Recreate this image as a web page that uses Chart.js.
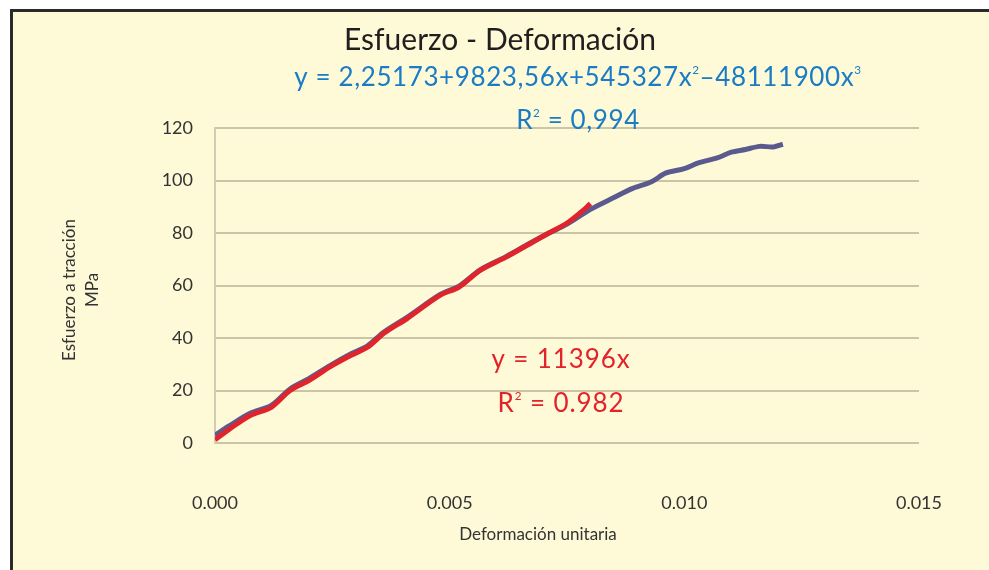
<!DOCTYPE html>
<html>
<head>
<meta charset="utf-8">
<script src="https://cdn.jsdelivr.net/npm/chart.js@4"></script>
<style>
  html, body { margin: 0; padding: 0; background: #fff; }
  #wrap { width: 989px; height: 570px; }
</style>
</head>
<body>
<div id="wrap"><canvas id="main" width="989" height="570"></canvas></div>
<script>
// curva completa (ajuste polinomico)
const xCurva = [0, 0.0003, 0.00075, 0.0012, 0.0016, 0.002, 0.00245, 0.0029, 0.00325, 0.0036, 0.0041,
  0.0048, 0.0052, 0.00565, 0.0062, 0.00665, 0.0071, 0.0075, 0.008, 0.0085, 0.0089, 0.0093, 0.0096,
  0.0100, 0.0103, 0.0107, 0.0110, 0.0113, 0.0116, 0.0119, 0.0121];
const yCurva = [3, 6.5, 11.3, 14.3, 20.6, 24.5, 29.5, 34, 37, 42.3, 48,
  56.6, 59.8, 66, 71, 75.5, 79.8, 83.4, 89, 93.5, 97, 99.5, 102.8,
  104.5, 106.7, 108.6, 110.8, 111.8, 113, 112.8, 113.8];

// tramo lineal (elastico)
const xLineal = [0, 0.0003, 0.00075, 0.0012, 0.0016, 0.002, 0.00245, 0.0029, 0.00325, 0.0036, 0.0041,
  0.0048, 0.0052, 0.00565, 0.0062, 0.00665, 0.0071, 0.0075, 0.0078, 0.0080];
const yLineal = [1.2, 5.2, 10.5, 13.6, 20, 23.8, 29, 33.4, 36.5, 41.8, 47.5,
  56.3, 59.4, 65.8, 70.8, 75.3, 79.9, 83.8, 88, 91.2];

const xTicks = [0, 0.005, 0.010, 0.015];
const yTicks = [0, 20, 40, 60, 80, 100, 120];

const toPoints = (xs, ys) => xs.map((x, i) => ({ x: x, y: ys[i] }));

const FONT = "Lato, 'Open Sans', sans-serif";
Chart.defaults.font.family = FONT;

// texto con superindices: partes [texto, esSuper]
function drawRich(ctx, parts, cx, cy, size, color, spacing) {
  ctx.save();
  ctx.fillStyle = color;
  ctx.textBaseline = "middle";
  ctx.textAlign = "left";
  ctx.letterSpacing = spacing + "px";
  let total = 0;
  parts.forEach(p => {
    ctx.font = (p[1] ? size * 0.45 : size) + "px " + FONT;
    total += ctx.measureText(p[0]).width;
  });
  let x = cx - total / 2;
  parts.forEach(p => {
    ctx.font = (p[1] ? size * 0.45 : size) + "px " + FONT;
    ctx.fillText(p[0], x, p[1] ? cy - size * 0.3 : cy);
    x += ctx.measureText(p[0]).width;
  });
  ctx.restore();
}

const fondo = {
  id: "fondo",
  beforeDraw(chart) {
    const c = chart.ctx;
    c.save();
    c.fillStyle = "#ffffff";
    c.fillRect(0, 0, chart.width, chart.height);
    c.fillStyle = "#fefad7";
    c.fillRect(11, 11, chart.width - 11, chart.height - 11);
    c.fillStyle = "#2a2a2a";
    c.fillRect(10, 9, chart.width - 10, 3);
    c.fillRect(10, 9, 3, chart.height - 9);
    c.restore();
  },
  afterDraw(chart) {
    const c = chart.ctx;
    c.save();
    c.letterSpacing = "0px";
    c.fillStyle = "#1f1f1f";
    c.textAlign = "center";
    c.textBaseline = "middle";
    c.font = "30px " + FONT;
    c.fillText("Esfuerzo - Deformación", 500, 40);

    c.fillStyle = "#333";
    c.font = "17px " + FONT;
    c.fillText("Deformación unitaria", 538, 535);
    c.translate(81, 290);
    c.rotate(-Math.PI / 2);
    c.fillText("Esfuerzo a tracción", 0, -11);
    c.fillText("MPa", 0, 12);
    c.restore();

    drawRich(c, [["y = 2,25173+9823,56x+545327x", false], ["2", true], ["–48111900x", false], ["3", true]],
      578, 78, 26, "#1a7cc4", 0.6);
    drawRich(c, [["R", false], ["2", true], [" = 0,994", false]], 578, 121, 26, "#1a7cc4", 0.6);
    drawRich(c, [["y = 11396x", false]], 561, 360, 26, "#e3232b", 0.9);
    drawRich(c, [["R", false], ["2", true], [" = 0.982", false]], 561, 404, 26, "#e3232b", 0.9);
  }
};

const ctx = document.getElementById("main").getContext("2d");
ctx.letterSpacing = "0.6px";
const myChart = new Chart(ctx, {
  type: "scatter",
  data: {
    datasets: [
      {
        label: "Lineal",
        data: toPoints(xLineal, yLineal),
        showLine: true,
        borderColor: "#e0242c",
        borderWidth: 5,
        pointRadius: 0,
        tension: 0.3,
      },
      {
        label: "Curva",
        data: toPoints(xCurva, yCurva),
        showLine: true,
        borderColor: "#5b5a8e",
        borderWidth: 5,
        pointRadius: 0,
        tension: 0.3,
      },
    ],
  },
  options: {
    responsive: false,
    animation: false,
    layout: { padding: { left: 0, right: 70, top: 128, bottom: 0 } },
    plugins: { legend: { display: false }, tooltip: { enabled: false } },
    scales: {
      x: {
        type: "linear",
        min: 0,
        max: 0.015,
        afterBuildTicks: (s) => { s.ticks = xTicks.map(v => ({ value: v })); },
        afterFit: (s) => { s.height = 127; },
        grid: { display: false },
        border: { display: false },
        ticks: {
          color: "#333",
          font: { size: 18 },
          padding: 41,
          callback: (v) => v.toFixed(3),
        },
      },
      y: {
        min: 0,
        max: 120,
        afterBuildTicks: (s) => { s.ticks = yTicks.map(v => ({ value: v })); },
        afterFit: (s) => { s.width = 215; },
        grid: { color: "#cbc4a6", lineWidth: 2, drawTicks: false },
        border: { display: true, color: "#d3ccb2", width: 2 },
        ticks: { color: "#333", font: { size: 18 }, padding: 22 },
      },
    },
  },
  plugins: [fondo],
});
</script>
</body>
</html>
